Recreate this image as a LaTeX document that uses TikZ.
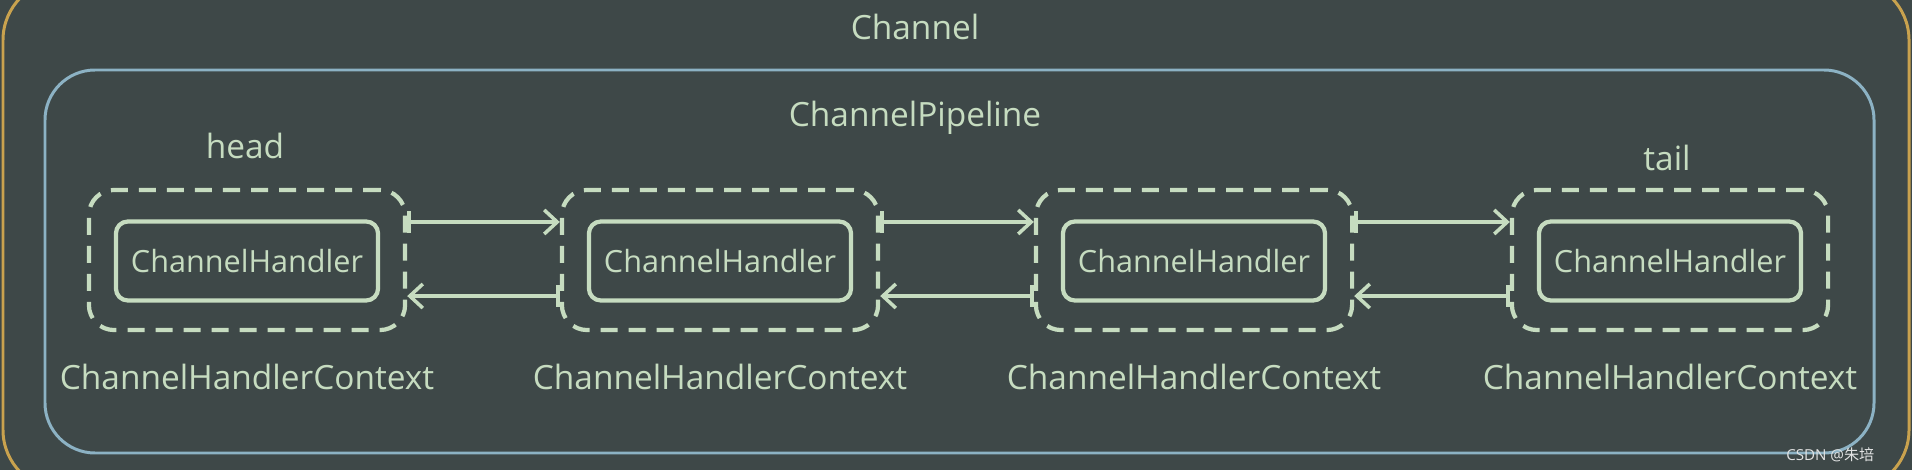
\documentclass[tikz,border=0pt]{standalone}
\usepackage{fontspec}
\setmainfont{Open Sans}
\newfontfamily\cjkfont{Noto Sans CJK SC}
\usetikzlibrary{arrows.meta}
\definecolor{bg}{HTML}{3E4848}
\definecolor{fg}{HTML}{C6DCC0}
\definecolor{bluec}{HTML}{8CB2C4}
\definecolor{goldc}{HTML}{C9A24E}
\tikzset{
  ctxbox/.style={draw=fg, line width=1.2pt, dash pattern=on 0.17cm off 0.11cm, rounded corners=0.25cm, minimum width=3.16cm, minimum height=1.40cm},
  hbox/.style={draw=fg, line width=1.2pt, rounded corners=0.12cm, minimum width=2.62cm, minimum height=0.79cm, text=fg, font=\fontsize{8.7}{10}\selectfont, inner sep=0pt},
  lbl/.style={text=fg, font=\fontsize{9.5}{11}\selectfont, inner sep=0pt},
  arr/.style={draw=fg, line width=1pt, {Bar[width=0.22cm]}-{Straight Barb[length=0.13cm,width=0.24cm]}}
}
\begin{document}
\begin{tikzpicture}[x=0.01cm,y=-0.01cm]
\fill[bg] (0,0) rectangle (1912,470);
\useasboundingbox (0,0) rectangle (1912,470);
\begin{scope}
\clip (0,0) rectangle (1912,470);
\draw[goldc, line width=0.85pt, rounded corners=0.6cm] (3,-20) rectangle (1909,490);
\end{scope}
\draw[bluec, line width=0.85pt, rounded corners=0.5cm] (45,70) rectangle (1874,453);
\node[lbl] (channel) at (915,27) {Channel};
\node[lbl] (pipeline) at (915,118) {ChannelPipeline};
\node[lbl] (head) at (245,146) {head};
\node[lbl] (tail) at (1667,158) {tail};
\foreach \i/\x in {1/247,2/720,3/1194,4/1670}{
  \node[ctxbox] (c\i) at (\x,260) {};
  \node[hbox] (h\i) at (\x,261) {ChannelHandler};
  \node[lbl] (l\i) at (\x,377) {ChannelHandlerContext};
}
\foreach \a/\b in {1/2,2/3,3/4}{
  \draw[arr] ([yshift=0.38cm]c\a.east) -- ([yshift=0.38cm]c\b.west);
  \draw[arr] ([yshift=-0.36cm]c\b.west) -- ([yshift=-0.36cm]c\a.east);
}
\node[text=white!85!bg, font=\fontsize{4.3}{5}\selectfont, inner sep=0pt, anchor=east] (wm) at (1875,455) {CSDN @{\cjkfont 朱培}};
\end{tikzpicture}
\end{document}
